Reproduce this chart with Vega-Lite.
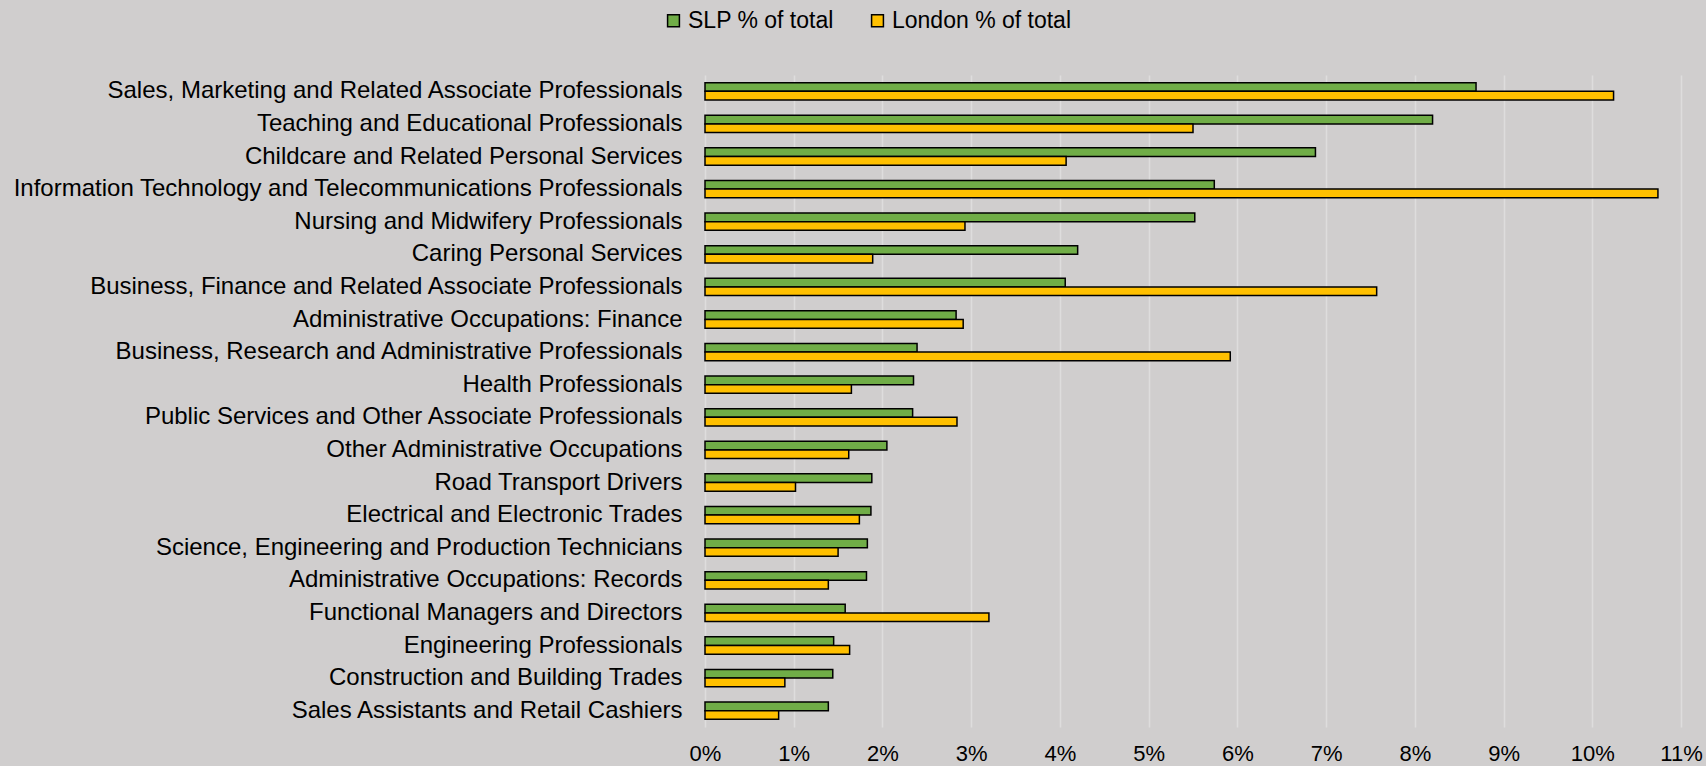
{
  "$schema": "https://vega.github.io/schema/vega-lite/v6.json",
  "width": 976,
  "height": 652,
  "autosize": {"type": "none"},
  "padding": {"left": 705, "top": 75, "right": 25, "bottom": 39},
  "background": "#D0CECE",
  "config": {
    "view": {"stroke": null},
    "font": "Liberation Sans"
  },
  "data": {
    "values": [
      {"occ": "Sales, Marketing and Related Associate Professionals", "series": "SLP % of total", "value": 0.0869},
      {"occ": "Sales, Marketing and Related Associate Professionals", "series": "London % of total", "value": 0.1024},
      {"occ": "Teaching and Educational Professionals", "series": "SLP % of total", "value": 0.0820},
      {"occ": "Teaching and Educational Professionals", "series": "London % of total", "value": 0.0550},
      {"occ": "Childcare and Related Personal Services", "series": "SLP % of total", "value": 0.0688},
      {"occ": "Childcare and Related Personal Services", "series": "London % of total", "value": 0.0407},
      {"occ": "Information Technology and Telecommunications Professionals", "series": "SLP % of total", "value": 0.0574},
      {"occ": "Information Technology and Telecommunications Professionals", "series": "London % of total", "value": 0.1074},
      {"occ": "Nursing and Midwifery Professionals", "series": "SLP % of total", "value": 0.0552},
      {"occ": "Nursing and Midwifery Professionals", "series": "London % of total", "value": 0.0293},
      {"occ": "Caring Personal Services", "series": "SLP % of total", "value": 0.0420},
      {"occ": "Caring Personal Services", "series": "London % of total", "value": 0.0189},
      {"occ": "Business, Finance and Related Associate Professionals", "series": "SLP % of total", "value": 0.0406},
      {"occ": "Business, Finance and Related Associate Professionals", "series": "London % of total", "value": 0.0757},
      {"occ": "Administrative Occupations: Finance", "series": "SLP % of total", "value": 0.0283},
      {"occ": "Administrative Occupations: Finance", "series": "London % of total", "value": 0.0291},
      {"occ": "Business, Research and Administrative Professionals", "series": "SLP % of total", "value": 0.0239},
      {"occ": "Business, Research and Administrative Professionals", "series": "London % of total", "value": 0.0592},
      {"occ": "Health Professionals", "series": "SLP % of total", "value": 0.0235},
      {"occ": "Health Professionals", "series": "London % of total", "value": 0.0165},
      {"occ": "Public Services and Other Associate Professionals", "series": "SLP % of total", "value": 0.0234},
      {"occ": "Public Services and Other Associate Professionals", "series": "London % of total", "value": 0.0284},
      {"occ": "Other Administrative Occupations", "series": "SLP % of total", "value": 0.0205},
      {"occ": "Other Administrative Occupations", "series": "London % of total", "value": 0.0162},
      {"occ": "Road Transport Drivers", "series": "SLP % of total", "value": 0.0188},
      {"occ": "Road Transport Drivers", "series": "London % of total", "value": 0.0102},
      {"occ": "Electrical and Electronic Trades", "series": "SLP % of total", "value": 0.0187},
      {"occ": "Electrical and Electronic Trades", "series": "London % of total", "value": 0.0174},
      {"occ": "Science, Engineering and Production Technicians", "series": "SLP % of total", "value": 0.0183},
      {"occ": "Science, Engineering and Production Technicians", "series": "London % of total", "value": 0.0150},
      {"occ": "Administrative Occupations: Records", "series": "SLP % of total", "value": 0.0182},
      {"occ": "Administrative Occupations: Records", "series": "London % of total", "value": 0.0139},
      {"occ": "Functional Managers and Directors", "series": "SLP % of total", "value": 0.0158},
      {"occ": "Functional Managers and Directors", "series": "London % of total", "value": 0.0320},
      {"occ": "Engineering Professionals", "series": "SLP % of total", "value": 0.0145},
      {"occ": "Engineering Professionals", "series": "London % of total", "value": 0.0163},
      {"occ": "Construction and Building Trades", "series": "SLP % of total", "value": 0.0144},
      {"occ": "Construction and Building Trades", "series": "London % of total", "value": 0.0090},
      {"occ": "Sales Assistants and Retail Cashiers", "series": "SLP % of total", "value": 0.0139},
      {"occ": "Sales Assistants and Retail Cashiers", "series": "London % of total", "value": 0.0083}
    ]
  },
  "mark": {"type": "bar", "stroke": "#000000", "strokeWidth": 1.5},
  "encoding": {
    "y": {
      "field": "occ",
      "type": "nominal",
      "sort": null,
      "scale": {"paddingInner": 0.47, "paddingOuter": 0.235},
      "axis": {
        "title": null,
        "ticks": false,
        "domain": false,
        "labelPadding": 23,
        "labelFontSize": 24,
        "labelColor": "#000000",
        "labelLimit": 0
      }
    },
    "yOffset": {
      "field": "series",
      "type": "nominal",
      "sort": ["SLP % of total", "London % of total"],
      "scale": {"paddingInner": 0, "paddingOuter": 0}
    },
    "x": {
      "field": "value",
      "type": "quantitative",
      "scale": {"domain": [0, 0.11], "nice": false},
      "axis": {
        "title": null,
        "format": ".0%",
        "values": [0, 0.01, 0.02, 0.03, 0.04, 0.05, 0.06, 0.07, 0.08, 0.09, 0.1, 0.11],
        "domain": false,
        "ticks": false,
        "labelFlush": false,
        "labelPadding": 16,
        "labelFontSize": 22,
        "labelColor": "#000000",
        "gridColor": "#DEDDDD",
        "gridWidth": 1.5
      }
    },
    "color": {
      "field": "series",
      "type": "nominal",
      "scale": {"domain": ["SLP % of total", "London % of total"], "range": ["#70AD47", "#FFC000"]},
      "legend": {
        "title": null,
        "orient": "none",
        "direction": "horizontal",
        "legendX": -43,
        "legendY": -66,
        "padding": 0,
        "symbolType": "square",
        "symbolSize": 140,
        "symbolStrokeColor": "#000000",
        "symbolStrokeWidth": 1.5,
        "symbolOpacity": 1,
        "labelFontSize": 23,
        "labelColor": "#000000",
        "labelOffset": 3,
        "columnPadding": 32,
        "labelLimit": 0
      }
    }
  }
}
